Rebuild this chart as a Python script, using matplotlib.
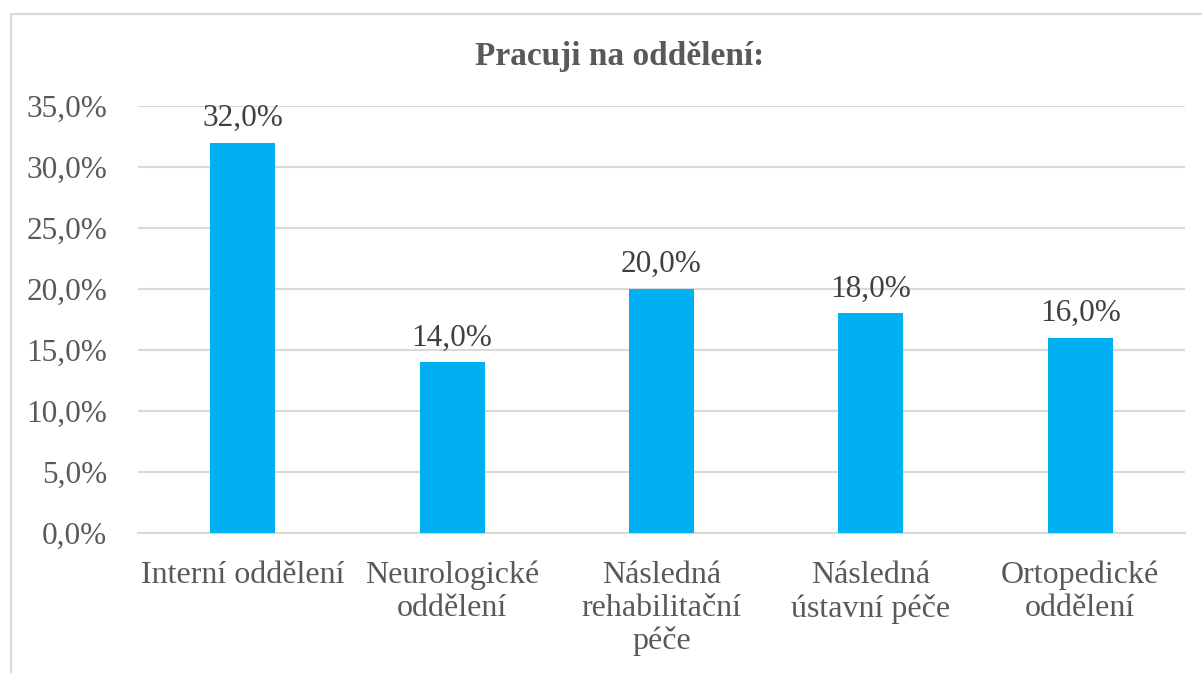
import matplotlib
matplotlib.use("Agg")
from matplotlib import pyplot as plt
from matplotlib.patches import Rectangle
from matplotlib.ticker import FuncFormatter

categories = ["Interní oddělení", "Neurologické\noddělení",
              "Následná\nrehabilitační\npéče", "Následná\nústavní péče",
              "Ortopedické\noddělení"]
values = [32.0, 14.0, 20.0, 18.0, 16.0]
title = "Pracuji na oddělení:"

W, H = 1202, 673
plt.rcParams["font.family"] = ["Liberation Serif", "DejaVu Serif"]

fig = plt.figure(figsize=(W / 100, H / 100), dpi=100)
ax = fig.add_axes([138 / W, 1 - 533 / H, (1185 - 138) / W, (533 - 106) / H])

x = list(range(len(categories)))
ax.bar(x, values, width=0.31, color="#00B0F0", zorder=3)
for xi, v in zip(x, values):
    ax.annotate("{:.1f}%".format(v).replace(".", ","), (xi, v),
                xytext=(0, 7), textcoords="offset points",
                ha="center", va="bottom", fontsize=22.5, color="#404040")

ax.set_xlim(-0.5, len(categories) - 0.5)
ax.set_ylim(0, 35)
ax.set_yticks(range(0, 36, 5))
ax.yaxis.set_major_formatter(FuncFormatter(
    lambda v, p: "{:.1f}%".format(v).replace(".", ",")))
ax.set_xticks(x)
ax.set_xticklabels(categories, linespacing=1.17)
ax.tick_params(axis="both", length=0, labelsize=22.5, labelcolor="#595959")
ax.tick_params(axis="x", labelsize=23)
ax.tick_params(axis="y", pad=22)
ax.tick_params(axis="x", pad=20)

ax.grid(axis="y", color="#d9d9d9", linewidth=1.5, zorder=0)
for s in ["top", "right", "left"]:
    ax.spines[s].set_visible(False)
ax.spines["bottom"].set_color("#d9d9d9")
ax.spines["bottom"].set_linewidth(1.5)

fig.text(620 / W, 1 - 56 / H, title, ha="center", va="center",
         fontsize=24, fontweight="bold", color="#595959")

fig.patches.append(Rectangle((11 / W, -0.1), 1.2, 1 - 14 / H + 0.1,
                             transform=fig.transFigure, fill=False,
                             edgecolor="#d9d9d9", linewidth=1.5))

fig.savefig("out.png", dpi=100)
